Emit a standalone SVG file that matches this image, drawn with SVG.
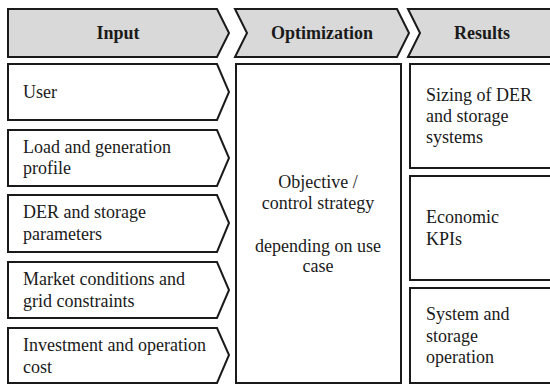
<svg xmlns="http://www.w3.org/2000/svg" width="550" height="385" viewBox="0 0 550 385">
<style>
.hd{fill:#d9d9d9;stroke:#1a1a1a;stroke-width:2;stroke-linejoin:miter}
.bx{fill:#ffffff;stroke:#1a1a1a;stroke-width:2;stroke-linejoin:miter}
.tb{font-weight:bold}
.c{text-anchor:middle}
</style>
<rect width="550" height="385" fill="#ffffff"/>
<g font-family="Liberation Serif, DejaVu Serif, serif" font-size="18" fill="#1a1a1a">
<g id="hdr-input"><polygon class="hd" points="8,9 217,9 229,33 217,57 8,57"/><text class="tb c" x="118" y="39">Input</text></g>
<g id="hdr-optimization"><polygon class="hd" points="235,9 397,9 409,33 397,57 235,57 247,33"/><text class="tb c" x="322" y="39">Optimization</text></g>
<g id="hdr-results"><polygon class="hd" points="408,9 560,9 560,57 408,57 420,33"/><text class="tb c" x="482" y="39">Results</text></g>
<g id="in-user"><polygon class="bx" points="8,64 217,64 229,92 217,120 8,120"/><text x="23" y="98">User</text></g>
<g id="in-load"><polygon class="bx" points="8,130 217,130 229,158 217,186 8,186"/><text x="23" y="153">Load and generation</text><text x="23" y="174">profile</text></g>
<g id="in-der"><polygon class="bx" points="8,195 217,195 229,223 217,252 8,252"/><text x="23" y="218">DER and storage</text><text x="23" y="240">parameters</text></g>
<g id="in-market"><polygon class="bx" points="8,262 217,262 229,290 217,318 8,318"/><text x="23" y="285">Market conditions and</text><text x="23" y="307">grid constraints</text></g>
<g id="in-cost"><polygon class="bx" points="8,328 217,328 229,355 217,383 8,383"/><text x="23" y="351">Investment and operation</text><text x="23" y="373">cost</text></g>
<g id="optimization"><rect class="bx" x="236" y="64" width="165" height="319"/><text class="c" x="318" y="188">Objective /</text><text class="c" x="318" y="209">control strategy</text><text class="c" x="318" y="252">depending on use</text><text class="c" x="318" y="272">case</text></g>
<g id="res-sizing"><rect class="bx" x="410" y="64" width="150" height="104"/><text x="426" y="101">Sizing of DER</text><text x="426" y="122">and storage</text><text x="426" y="143">systems</text></g>
<g id="res-kpi"><rect class="bx" x="410" y="176" width="150" height="104"/><text x="426" y="223">Economic</text><text x="426" y="245">KPIs</text></g>
<g id="res-operation"><rect class="bx" x="410" y="288" width="150" height="95"/><text x="426" y="320">System and</text><text x="426" y="342">storage</text><text x="426" y="363">operation</text></g>
</g>
<g id="connectors"></g>
</svg>
